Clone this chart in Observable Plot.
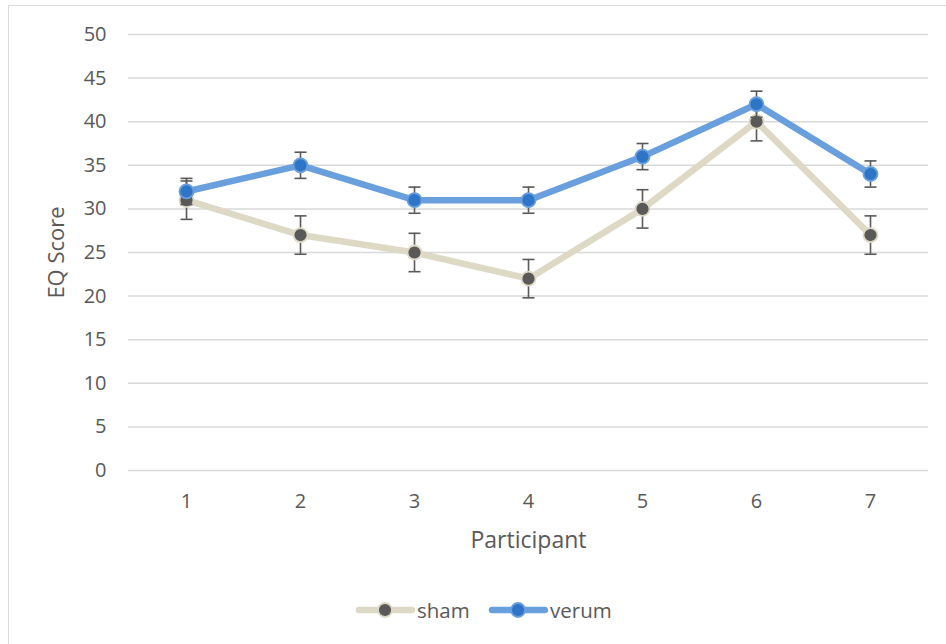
<!DOCTYPE html>
<html>
<head>
<meta charset="utf-8">
<script src="https://cdn.jsdelivr.net/npm/d3@7"></script>
<script src="https://cdn.jsdelivr.net/npm/@observablehq/plot@0.6"></script>
<style>
  html, body { margin: 0; padding: 0; background: #fff; }
  body { width: 946px; height: 644px; position: relative; overflow: hidden; font-family: "Open Sans", sans-serif; }
  #frame { position: absolute; left: 8px; top: 5px; width: 945px; height: 650px; border: 1px solid #d9d9d9; box-sizing: border-box; }
  #chart { position: absolute; left: 0; top: 0; }
  #legend { position: absolute; top: 596px; left: 0; width: 946px; height: 28px; }
  .lg { position: absolute; top: 0; display: flex; align-items: center; height: 28px; font-size: 20.5px; color: #595959; }
</style>
</head>
<body>
<div id="frame"></div>
<div id="chart"></div>
<div id="legend"></div>
<script>
const participants = ["1", "2", "3", "4", "5", "6", "7"];
const shamValues = [31, 27, 25, 22, 30, 40, 27];
const verumValues = [32, 35, 31, 31, 36, 42, 34];
const shamError = [2.2, 2.2, 2.2, 2.2, 2.2, 2.2, 2.2];
const verumError = [1.5, 1.5, 1.5, 1.5, 1.5, 1.5, 1.5];
const yTicks = [0, 5, 10, 15, 20, 25, 30, 35, 40, 45, 50];
const seriesNames = ["sham", "verum"];

const styles = {
  sham: { line: "#DDD9C4", fill: "#595959", stroke: "#DDD9C4" },
  verum: { line: "#6A9FDE", fill: "#2E75C8", stroke: "#6A9FDE" }
};

const rows = [];
participants.forEach((p, i) => {
  rows.push({ series: "sham", p, v: shamValues[i], e: shamError[i] });
  rows.push({ series: "verum", p, v: verumValues[i], e: verumError[i] });
});

const capSymbol = {
  draw(ctx) { ctx.moveTo(-6, 0); ctx.lineTo(6, 0); }
};

const marks = [
  Plot.ruleY(yTicks, { stroke: "#d9d9d9", strokeWidth: 1.5 })
];
for (const s of seriesNames) {
  const d = rows.filter(r => r.series === s);
  const st = styles[s];
  marks.push(
    Plot.line(d, { x: "p", y: "v", stroke: st.line, strokeWidth: 6.5, strokeLinejoin: "round", strokeLinecap: "round" }),
    Plot.ruleX(d, { x: "p", y1: r => r.v - r.e, y2: r => r.v + r.e, stroke: "#595959", strokeWidth: 1.6 }),
    Plot.dot(d, { x: "p", y: r => r.v + r.e, symbol: capSymbol, r: 6, stroke: "#595959", strokeWidth: 1.6, fill: "none" }),
    Plot.dot(d, { x: "p", y: r => r.v - r.e, symbol: capSymbol, r: 6, stroke: "#595959", strokeWidth: 1.6, fill: "none" }),
    Plot.dot(d, { x: "p", y: "v", r: 7, fill: st.fill, stroke: st.stroke, strokeWidth: 1.8 })
  );
}

const chart = Plot.plot({
  width: 946,
  height: 580,
  marginLeft: 128,
  marginRight: 18,
  marginTop: 34,
  marginBottom: 110,
  style: { fontFamily: "'Open Sans', sans-serif", fontSize: "20px", color: "#595959", background: "transparent", overflow: "visible" },
  x: { type: "point", domain: participants, padding: 0.5, align: 0.5 },
  y: { domain: [0, 50] },
  marks: [
    ...marks,
    Plot.axisY({ ticks: yTicks, tickSize: 0, tickPadding: 22, label: null, fontSize: 20, fill: "#595959" }),
    Plot.axisX({ tickSize: 0, tickPadding: 23, label: null, fontSize: 20, fill: "#595959" }),
    Plot.text(["EQ Score"], { frameAnchor: "left", textAnchor: "middle", dx: -72, rotate: -90, fontSize: 22, fill: "#595959" }),
    Plot.text(["Participant"], { frameAnchor: "bottom", textAnchor: "middle", dy: 77, fontSize: 23, fill: "#595959" })
  ]
});
document.getElementById("chart").appendChild(chart);

// Legend
const legend = document.getElementById("legend");
const legendPos = { sham: 355, verum: 488 };
for (const s of seriesNames) {
  const st = styles[s];
  const el = document.createElement("div");
  el.className = "lg";
  el.style.left = legendPos[s] + "px";
  el.innerHTML =
    `<svg width="60" height="28"><line x1="4" y1="14" x2="57" y2="14" stroke="${st.line}" stroke-width="6.5" stroke-linecap="round"/>` +
    `<circle cx="30" cy="14" r="7" fill="${st.fill}" stroke="${st.stroke}" stroke-width="1.8"/></svg>` +
    `<span style="margin-left:2px">${s}</span>`;
  legend.appendChild(el);
}
</script>
</body>
</html>
